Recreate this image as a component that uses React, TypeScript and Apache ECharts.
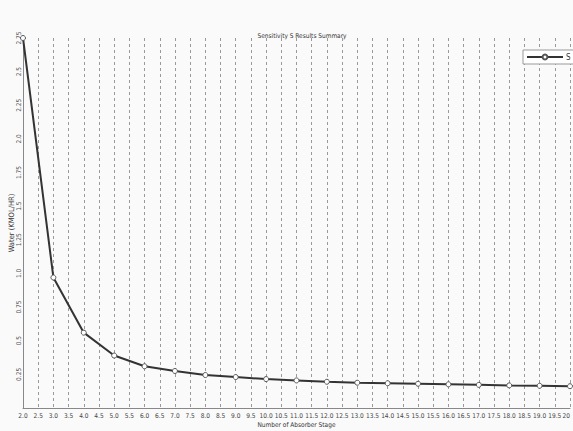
import React, { useEffect, useRef } from "react";
import * as echarts from "echarts";

const stages = [2, 3, 4, 5, 6, 7, 8, 9, 10, 11, 12, 13, 14, 15, 16, 17, 18, 19, 20];
const water = [2.75, 0.97, 0.56, 0.39, 0.31, 0.275, 0.245, 0.23, 0.215, 0.205, 0.195, 0.188, 0.184, 0.18, 0.176, 0.172, 0.168, 0.165, 0.162];
const seriesName = "S";
const titleText = "Sensitivity S Results Summary";
const xName = "Number of Absorber Stage";
const yName = "Water (KMOL/HR)";

const FONT = "'Liberation Sans Narrow', 'DejaVu Sans Condensed', 'Liberation Sans', sans-serif";

export default function App() {
  const ref = useRef<HTMLDivElement>(null);
  useEffect(() => {
    if (!ref.current) return;
    const chart = echarts.init(ref.current, null, { renderer: "svg" });
    chart.setOption({
      animation: false,
      backgroundColor: "#fafafa",
      title: {
        text: titleText,
        left: 297,
        textAlign: "center",
        top: 27,
        textStyle: { fontSize: 6.5, fontWeight: "normal", color: "#333", fontFamily: FONT },
      },
      legend: {
        data: [{ name: seriesName }],
        left: 523,
        top: 50,
        orient: "vertical",
        borderColor: "#999",
        borderWidth: 1,
        borderRadius: 0,
        padding: [3, 4, 3, 3],
        itemWidth: 36,
        itemHeight: 6,
        itemGap: 2,
        backgroundColor: "#fff",
        textStyle: { fontSize: 8, color: "#333", fontFamily: FONT, padding: [0, 0, 0, -2] },
      },
      grid: { left: 23, right: 3, top: 38, bottom: 23, containLabel: false, outerBoundsMode: "none" },
      xAxis: {
        type: "value",
        min: 2,
        max: 20,
        interval: 0.5,
        name: xName,
        nameLocation: "middle",
        nameGap: 13,
        nameMoveOverlap: false,
        nameTextStyle: { fontSize: 6.5, color: "#333", fontFamily: FONT },
        axisLine: { lineStyle: { color: "#888", width: 1 } },
        axisTick: { show: false },
        axisLabel: {
          fontSize: 6.5,
          color: "#444",
          fontFamily: FONT,
          margin: 4,
          hideOverlap: false,
          showMaxLabel: true,
          alignMaxLabel: "right",
          formatter: (v: number) => (v === 20 ? "20" : v.toFixed(1)),
        },
        splitLine: { show: true, lineStyle: { color: "#999", type: [3, 3], width: 1 } },
      },
      yAxis: {
        type: "value",
        min: 0,
        max: 2.75,
        interval: 0.25,
        name: yName,
        nameLocation: "middle",
        nameGap: 8,
        nameRotate: 90,
        nameMoveOverlap: false,
        nameTextStyle: { fontSize: 7.5, color: "#333", fontFamily: FONT },
        axisLine: { show: true, lineStyle: { color: "#888", width: 1 } },
        axisTick: { show: false },
        axisLabel: {
          fontSize: 6.5,
          color: "#555",
          fontFamily: FONT,
          rotate: 90,
          margin: 1,
          showMinLabel: false,
          formatter: (v: number) => (Number.isInteger(v) ? v.toFixed(1) : String(v)),
        },
        splitLine: { show: false },
      },
      series: [
        {
          name: seriesName,
          type: "line",
          data: stages.map((s, i) => [s, water[i]]),
          symbol: "circle",
          symbolSize: 5,
          showSymbol: true,
          lineStyle: { color: "#333", width: 2 },
          itemStyle: { color: "#fff", borderColor: "#555", borderWidth: 1 },
        },
      ],
    });
    return () => chart.dispose();
  }, []);
  return <div ref={ref} style={{ position: "fixed", left: 0, top: 0, width: 573, height: 431 }} />;
}
